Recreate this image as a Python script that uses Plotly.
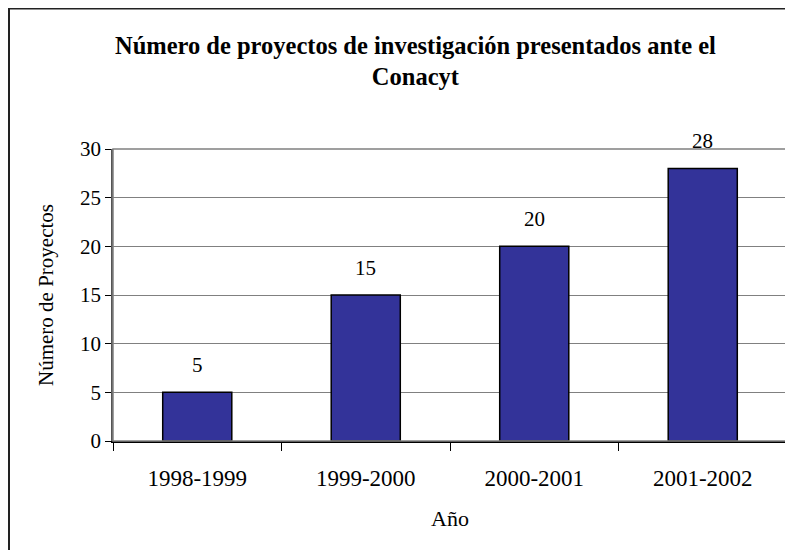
import plotly.graph_objects as go

anios = ['1998-1999', '1999-2000', '2000-2001', '2001-2002']
proyectos = [5, 15, 20, 28]
y_ticks = [0, 5, 10, 15, 20, 25, 30]

fuente = 'Liberation Serif'

fig = go.Figure(data=[go.Bar(x=anios,
                             y=proyectos,
                             width=0.41,
                             marker=dict(color='#333399',
                                         line=dict(color='#000000', width=1.5)))])

# etiquetas de datos al estilo Excel, algo separadas de la barra
for a, p in zip(anios, proyectos):
    fig.add_annotation(x=a, y=p, text=str(p), showarrow=False,
                       yanchor='bottom', yshift=13,
                       font=dict(family=fuente, size=21, color='#000000'))

# borde del area de trazado (gris)
fig.add_shape(type='rect', xref='paper', yref='paper', x0=0, y0=0, x1=1, y1=1,
              line=dict(color='#808080', width=1.5), layer='above')

# borde exterior del grafico
fig.add_shape(type='rect', xref='paper', yref='paper',
              x0=-0.1543, y0=-0.42, x1=1.03, y1=1.481,
              line=dict(color='#222222', width=2), layer='above')

# la pagina tiene 8px de margen, asi que la figura es algo mas pequena
fig.update_layout(
    title=dict(text='<b>Número de proyectos de investigación presentados ante el<br>Conacyt</b>',
               x=0.519, xanchor='center', y=1 - 45.5 / 542, yanchor='middle',
               yref='container',
               font=dict(family=fuente, size=24.5, color='#000000')),
    width=785, height=542,
    margin=dict(l=105, r=6, t=141, b=109),
    paper_bgcolor='#ffffff',
    plot_bgcolor='#ffffff',
    showlegend=False,
    font=dict(family=fuente, size=21, color='#000000'),
    bargap=0.59,
)

fig.update_xaxes(title=dict(text='Año', standoff=20, font=dict(family=fuente, size=22)),
                 type='category', tickson='boundaries',
                 ticks='outside', ticklen=8, tickcolor='#000000', tickwidth=1,
                 ticklabelstandoff=16,
                 showline=True, linecolor='#000000', linewidth=1.5,
                 showgrid=False, tickfont=dict(family=fuente, size=23))

fig.update_yaxes(title=dict(text='Número de Proyectos', standoff=21,
                            font=dict(family=fuente, size=21)),
                 range=[0, 30], tickvals=y_ticks,
                 ticks='outside', ticklen=6, tickcolor='#000000', tickwidth=1,
                 showline=True, linecolor='#555555', linewidth=1.5,
                 showgrid=True, gridcolor='#808080', gridwidth=1.2,
                 zeroline=False, tickfont=dict(family=fuente, size=21))

fig.write_html('out.html')
